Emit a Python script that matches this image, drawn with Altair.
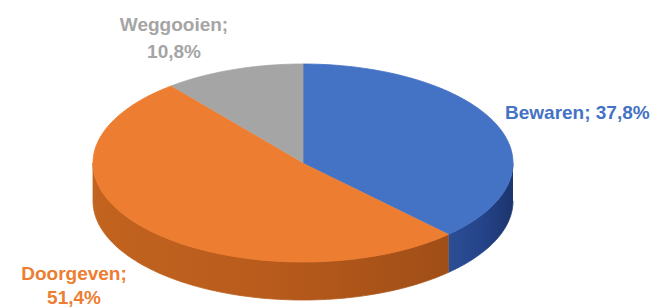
import altair as alt
import pandas as pd

# ---- data ----
categories = ["Bewaren", "Doorgeven", "Weggooien"]
values = [37.8, 51.4, 10.8]
label_lines = [["Bewaren; 37,8%"], ["Doorgeven;", "51,4%"], ["Weggooien;", "10,8%"]]

# ---- styles ----
top_colors = ["#4472C4", "#ED7D31", "#A5A5A5"]
side_stops = [  # left -> right shading of each slice's front wall
    ["#2C4E95", "#25448A", "#1C356D"],
    ["#C2631F", "#B85B1C", "#A04E17"],
    ["#8A8A8A", "#7C7C7C", "#6A6A6A"],
]
label_colors = ["#4472C4", "#ED7D31", "#A5A5A5"]
FONT = "Liberation Sans"
N = 90          # segments per arc
DEPTH = 0.384   # thickness of the pie, in y-units of the top ellipse

df = pd.DataFrame({"category": categories, "value": values, "order": list(range(len(categories)))})

xscale = alt.Scale(domain=[-1, 1], range=[85, 505], zero=False, nice=False)
yscale = alt.Scale(domain=[-1, 1], range=[254, 56], zero=False, nice=False)

base = (
    alt.Chart(df)
    .transform_window(cum="sum(value)", sort=[alt.SortField("order")], frame=[None, 0])
    .transform_joinaggregate(total="sum(value)")
    .transform_calculate(
        a0="2*PI*(datum.cum - datum.value)/datum.total",
        a1="2*PI*datum.cum/datum.total",
    )
)


def gradient(stops):
    n = len(stops)
    return alt.Gradient(
        gradient="linear", x1=0, x2=1, y1=0, y2=0,
        stops=[alt.GradientStop(color=c, offset=i / (n - 1)) for i, c in enumerate(stops)],
    )


# side (front wall) of each slice, only the visible half (east -> south -> west)
sides = []
for cat, stops in zip(categories, side_stops):
    g = gradient(stops)
    sides.append(
        base.transform_filter(alt.datum.category == cat)
        .transform_calculate(s="max(datum.a0, PI/2)", e="min(datum.a1, 3*PI/2)")
        .transform_filter("datum.e > datum.s")
        .transform_calculate(idx=f"sequence(0, {2 * N + 2})")
        .transform_flatten(["idx"])
        .transform_calculate(
            j=f"datum.idx <= {N} ? datum.idx : {2 * N + 1} - datum.idx",
            drop=f"datum.idx <= {N} ? 0 : {DEPTH}",
        )
        .transform_calculate(t=f"datum.s + (datum.e - datum.s)*datum.j/{N}")
        .transform_calculate(px="sin(datum.t)", py="cos(datum.t) - datum.drop")
        .mark_line(filled=True, color=g, stroke=g, strokeWidth=0.8, interpolate="linear")
        .encode(
            x=alt.X("px:Q", scale=xscale, axis=None),
            y=alt.Y("py:Q", scale=yscale, axis=None),
            order=alt.Order("idx:Q"),
        )
    )

# top face of each slice
top = (
    base.transform_calculate(idx=f"sequence(0, {N + 2})")
    .transform_flatten(["idx"])
    .transform_calculate(t=f"datum.a0 + (datum.a1 - datum.a0)*min(datum.idx, {N})/{N}")
    .transform_calculate(
        px=f"datum.idx > {N} ? 0 : sin(datum.t)",
        py=f"datum.idx > {N} ? 0 : cos(datum.t)",
    )
    .mark_line(filled=True, strokeWidth=0.8, interpolate="linear")
    .encode(
        x=alt.X("px:Q", scale=xscale, axis=None),
        y=alt.Y("py:Q", scale=yscale, axis=None),
        color=alt.Color("category:N", scale=alt.Scale(domain=categories, range=top_colors), legend=None),
        stroke=alt.Stroke("category:N", scale=alt.Scale(domain=categories, range=top_colors), legend=None),
        order=alt.Order("idx:Q"),
        detail="category:N",
    )
)

# labels
label_pos = [  # (x, y of first baseline, align, line height)
    (497, 111, "left", 27),
    (66, 272, "center", 24),
    (166, 23, "center", 27),
]
labels = []
for lines, col, (lx, ly, al, lh) in zip(label_lines, label_colors, label_pos):
    labels.append(
        alt.Chart(pd.DataFrame({"t": [lines]}))
        .mark_text(font=FONT, fontSize=19, fontWeight="bold", color=col, align=al,
                   baseline="alphabetic", lineHeight=lh)
        .encode(x=alt.value(lx), y=alt.value(ly), text="t")
    )

chart = (
    alt.layer(*sides, top, *labels)
    .resolve_scale(color="independent", stroke="independent")
    .properties(width=655, height=300, padding=0)
    .configure_view(stroke=None)
)

chart.save("out.html", embed_options={"renderer": "svg", "actions": False})
